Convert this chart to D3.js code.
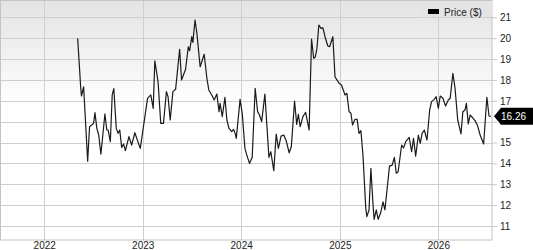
<!DOCTYPE html>
<html>
<head>
<meta charset="utf-8">
<script src="https://cdn.jsdelivr.net/npm/d3@7"></script>
<style>
body { margin: 0; background: #fff; }
svg text { font-family: "Liberation Sans", Arial, sans-serif; font-size: 10px; fill: #222; }
</style>
</head>
<body>
<svg id="chart" width="533" height="250"></svg>
<script>
// price series (weekly closes, turning points)
var dates = [
"2022-05-05","2022-05-16","2022-05-19","2022-05-27","2022-06-11","2022-06-18","2022-06-26","2022-07-03",
"2022-07-08","2022-07-15","2022-07-22","2022-07-30","2022-08-14","2022-08-21","2022-08-26","2022-09-03",
"2022-09-10","2022-09-16","2022-09-25","2022-10-02","2022-10-08","2022-10-15","2022-10-22","2022-10-29",
"2022-11-11","2022-11-21","2022-12-03","2022-12-10","2022-12-23","2023-01-02","2023-01-19","2023-01-31",
"2023-02-09","2023-02-15","2023-02-27","2023-03-09","2023-03-19","2023-03-30","2023-04-05","2023-04-13",
"2023-04-23","2023-05-03","2023-05-18","2023-05-25","2023-06-09","2023-06-19","2023-06-24","2023-07-02",
"2023-07-06","2023-07-14","2023-07-21","2023-08-02","2023-08-17","2023-08-27","2023-09-03","2023-09-16",
"2023-09-23","2023-10-03","2023-10-11","2023-10-15","2023-10-23","2023-11-02","2023-11-09","2023-11-17",
"2023-11-27","2023-12-04","2023-12-09","2023-12-14","2023-12-28","2024-01-05","2024-01-15","2024-01-22",
"2024-02-01","2024-02-11","2024-02-22","2024-03-02","2024-03-09","2024-03-17","2024-03-29","2024-04-13",
"2024-04-20","2024-05-01","2024-05-10","2024-05-18","2024-05-28","2024-06-07","2024-06-16","2024-06-27",
"2024-07-05","2024-07-17","2024-07-25","2024-07-31","2024-08-07","2024-08-17","2024-08-27","2024-09-09",
"2024-09-18","2024-09-26","2024-10-02","2024-10-08","2024-10-15","2024-10-23","2024-10-30","2024-11-07",
"2024-11-17","2024-11-24","2024-12-06","2024-12-14","2024-12-21","2024-12-29","2025-01-07","2025-01-15",
"2025-01-20","2025-01-27","2025-02-04","2025-02-11","2025-02-17","2025-02-26","2025-03-06","2025-03-13",
"2025-03-20","2025-03-28","2025-04-07","2025-04-11","2025-04-19","2025-04-26","2025-05-04","2025-05-08",
"2025-05-16","2025-05-23","2025-06-01","2025-06-10","2025-06-17","2025-07-04","2025-07-14","2025-07-22",
"2025-07-29","2025-08-05","2025-08-18","2025-08-25","2025-09-02","2025-09-09","2025-09-15","2025-09-24",
"2025-10-01","2025-10-09","2025-10-19","2025-10-26","2025-11-02","2025-11-10","2025-11-20","2025-11-30",
"2025-12-07","2025-12-17","2025-12-24","2026-01-01","2026-01-08","2026-01-18","2026-01-28","2026-02-07",
"2026-02-14","2026-02-24","2026-03-04","2026-03-14","2026-03-26","2026-04-02","2026-04-10","2026-04-15",
"2026-04-22","2026-04-29","2026-05-07","2026-05-17","2026-05-27","2026-06-05","2026-06-18","2026-06-30",
"2026-07-08","2026-07-15"
];
var prices = [
19.99,17.67,17.23,17.67,14.11,15.76,15.84,15.92,
16.43,15.68,15.36,14.44,16.37,15.60,15.60,15.04,
17.28,17.58,15.68,15.44,15.60,14.77,14.93,14.61,
15.28,14.88,15.47,15.20,14.72,15.60,17.12,17.28,
16.64,18.92,17.91,15.92,15.92,17.44,17.20,16.08,
17.44,17.55,19.47,18.00,18.51,19.59,19.40,20.07,
19.80,20.87,20.23,18.63,19.23,18.08,17.52,17.23,
17.04,17.32,16.48,16.88,16.24,17.17,16.08,15.68,
15.52,15.63,15.47,15.20,17.07,16.40,14.72,14.40,
14.00,14.29,17.60,16.48,16.32,16.00,17.32,14.29,
14.56,13.65,15.41,14.72,15.31,15.36,15.09,14.51,
14.80,16.99,15.87,16.35,15.76,16.24,16.45,15.60,
19.96,19.04,19.10,19.51,20.63,20.47,20.50,20.07,
19.64,19.59,20.07,18.15,18.00,17.84,17.76,17.47,
17.28,17.36,16.48,16.40,15.84,16.11,16.11,15.44,
15.57,14.32,11.85,11.45,11.77,13.76,12.01,11.32,
11.77,11.32,11.62,12.16,11.77,13.87,13.92,14.29,
13.53,13.60,14.88,14.74,15.04,15.15,15.25,14.56,
15.20,14.35,15.36,14.96,15.44,15.60,15.12,16.56,
16.96,17.07,17.20,16.64,17.23,17.12,16.75,17.04,
17.12,18.32,17.60,16.08,15.41,16.48,16.56,16.88,
15.89,16.32,16.21,16.05,15.79,15.36,14.93,17.17,
16.27,16.26
];
var yTicks = [11, 12, 13, 14, 15, 16, 17, 18, 19, 20, 21];
var xTicks = ["2022-01-01", "2023-01-01", "2024-01-01", "2025-01-01", "2026-01-01"];
var seriesName = "Price ($)";

var parse = d3.timeParse("%Y-%m-%d");
var data = dates.map(function(d, i){ return {date: parse(d), price: prices[i]}; });
var last = data[data.length - 1];

var W = 492, H = 240;
var svg = d3.select("#chart");

var x = d3.scaleTime()
    .domain([parse("2021-07-21"), parse("2026-07-19")])
    .range([0, W]);
var y = d3.scaleLinear()
    .domain([10.33, 21.83])
    .range([H, 0]);

// background gradient
var grad = svg.append("defs").append("linearGradient")
    .attr("id", "bg").attr("x1", 0).attr("x2", 0).attr("y1", 0).attr("y2", 1);
grad.append("stop").attr("offset", "0%").attr("stop-color", "#e3e3e3");
grad.append("stop").attr("offset", "44%").attr("stop-color", "#ffffff");
grad.append("stop").attr("offset", "100%").attr("stop-color", "#ffffff");

svg.append("rect")
    .attr("x", 0).attr("y", 0).attr("width", W).attr("height", H)
    .attr("fill", "url(#bg)");

// horizontal grid + right axis (the label under the last-price box is hidden, as in the source)
var ly = y(last.price);
var yAxis = svg.append("g")
    .attr("transform", "translate(" + W + ",0)")
    .call(d3.axisRight(y).tickValues(yTicks).tickSize(5).tickPadding(3).tickFormat(d3.format("d")));
yAxis.select(".domain").remove();
yAxis.selectAll(".tick line").attr("stroke", "#c8c8c8");
yAxis.selectAll(".tick text").attr("fill", "#222").style("font-size", "10px");
yAxis.selectAll(".tick").filter(function(d){ return Math.abs(y(d) - ly) < 12; })
    .select("text").remove();

svg.append("g").selectAll("line")
    .data(yTicks).enter().append("line")
    .attr("x1", 0).attr("x2", W)
    .attr("y1", function(d){ return Math.round(y(d)) + 0.5; })
    .attr("y2", function(d){ return Math.round(y(d)) + 0.5; })
    .attr("stroke", "#cfcfcf");

// vertical grid + bottom axis
var xAxis = svg.append("g")
    .attr("transform", "translate(0," + H + ")")
    .call(d3.axisBottom(x).tickValues(xTicks.map(parse)).tickSize(0).tickPadding(2)
          .tickFormat(d3.timeFormat("%Y")));
xAxis.select(".domain").remove();
xAxis.selectAll(".tick text").attr("fill", "#222").style("font-size", "10px");

svg.append("g").selectAll("line")
    .data(xTicks).enter().append("line")
    .attr("x1", function(d){ return Math.round(x(parse(d))) + 0.5; })
    .attr("x2", function(d){ return Math.round(x(parse(d))) + 0.5; })
    .attr("y1", 0).attr("y2", H)
    .attr("stroke", "#cfcfcf");

// frame
svg.append("rect")
    .attr("x", 0.5).attr("y", 0.5).attr("width", W - 0.5).attr("height", H - 0.5)
    .attr("fill", "none").attr("stroke", "#c4c4c4");

// legend (covers the grid in its corner)
var lg = svg.append("g");
lg.append("rect")
    .attr("x", 421).attr("y", 1).attr("width", W - 421).attr("height", 16)
    .attr("fill", "#e4e4e4");
lg.append("rect")
    .attr("x", 428).attr("y", 9).attr("width", 11).attr("height", 5)
    .attr("fill", "#000");
lg.append("text")
    .attr("x", 444).attr("y", 15.5)
    .text(seriesName);

// price line
var line = d3.line()
    .x(function(d){ return x(d.date); })
    .y(function(d){ return y(d.price); });

svg.append("path")
    .datum(data)
    .attr("d", line)
    .attr("fill", "none")
    .attr("stroke", "#1a1a1a")
    .attr("stroke-width", 1.2)
    .attr("stroke-linejoin", "round");

// last price marker
svg.append("path")
    .attr("d", "M" + (W + 2) + "," + ly + "L" + (W + 9) + "," + (ly - 8.5) +
         "L533," + (ly - 8.5) + "L533," + (ly + 8.5) + "L" + (W + 9) + "," + (ly + 8.5) + "Z")
    .attr("fill", "#000");
svg.append("text")
    .attr("x", W + 9).attr("y", ly + 3.8)
    .style("fill", "#fff")
    .text(d3.format(".2f")(last.price));
</script>
</body>
</html>
